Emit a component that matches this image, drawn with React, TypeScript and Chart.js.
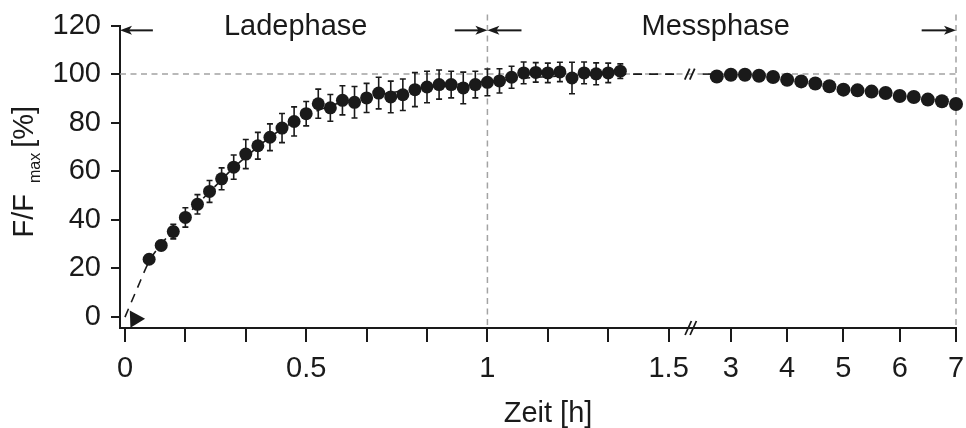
import { useEffect, useRef } from 'react';
import { Chart, registerables } from 'chart.js';

Chart.register(...registerables);

const FONT = "'Liberation Sans', Arial, Helvetica, sans-serif";
const INK = '#1a1a1a';
const GRID_GRAY = '#a3a3a3';

// Ladephase: measurements every 2 min (time in minutes)
const LOAD_TIME_MIN = [4, 6, 8, 10, 12, 14, 16, 18, 20, 22, 24, 26, 28, 30, 32, 34, 36, 38, 40, 42, 44, 46, 48, 50, 52, 54, 56, 58, 60, 62, 64, 66, 68, 70, 72, 74, 76, 78, 80, 82];
const LOAD_VALUES = [23.8, 29.5, 35.2, 41.0, 46.4, 51.7, 56.9, 61.7, 67.1, 70.5, 74.0, 77.8, 80.5, 83.7, 87.8, 86.1, 89.2, 88.4, 90.2, 92.2, 90.6, 91.5, 93.6, 94.7, 95.7, 95.7, 94.3, 95.7, 96.6, 97.2, 98.7, 100.5, 100.7, 100.5, 100.9, 98.4, 100.5, 100.1, 100.5, 101.2];
const LOAD_ERRORS = [1.5, 2, 3, 4, 4, 4.5, 4.5, 5, 6, 5.5, 5.5, 6, 6, 5, 6, 5.5, 6, 6.5, 6, 6.5, 6.5, 6.5, 7, 6.5, 6, 5.5, 6.5, 5.5, 5.5, 5, 4.5, 4.5, 4, 4, 4, 6.5, 4.5, 4.5, 4, 3];

// Messphase (time in hours)
const MEAS_TIME_H = [2.75, 3, 3.25, 3.5, 3.75, 4, 4.25, 4.5, 4.75, 5, 5.25, 5.5, 5.75, 6, 6.25, 6.5, 6.75, 7];
const MEAS_VALUES = [99.0, 99.7, 99.7, 99.3, 98.8, 97.7, 97.0, 96.1, 95.0, 93.6, 93.3, 92.8, 92.2, 91.0, 90.6, 89.5, 88.8, 87.7];

// dashed fit curve
const FIT_LOAD_TIME_H = [0.0, 0.033, 0.067, 0.1, 0.15, 0.2, 0.25, 0.3, 0.35, 0.4, 0.45, 0.5, 0.55, 0.6, 0.7, 0.8, 0.9, 1.0, 1.1, 1.2, 1.3, 1.4, 1.525];
const FIT_LOAD_VALUES = [0, 11.5, 23, 30, 38.5, 46.5, 54, 61.5, 68, 74, 79, 83, 86, 88.5, 91.5, 93.8, 95.5, 97, 98.3, 99.2, 99.8, 100, 100];
const FIT_MEAS_TIME_H = [2.5, 2.75];
const FIT_MEAS_VALUES = [100, 100];

// start marker
const START_TIME_H = [0.028];
const START_VALUES = [-0.8];

const Y_TICKS = [0, 20, 40, 60, 80, 100, 120];
const X_LEFT_TICKS = [0, 1 / 6, 2 / 6, 0.5, 4 / 6, 5 / 6, 1, 7 / 6, 8 / 6, 1.5];
const X_RIGHT_TICKS = [3, 4, 5, 6, 7];
const PHASE_LABELS = ['Ladephase', 'Messphase'];
const X_TITLE = 'Zeit [h]';
const Y_TITLE = ['F/F', 'max', '[%]'];

const decorPlugin = {
  id: 'decor',
  beforeDatasetsDraw(chart: any) {
    const { ctx, chartArea: ca, scales } = chart;
    const x = scales.x, x2 = scales.x2, y = scales.y;
    ctx.save();
    ctx.strokeStyle = GRID_GRAY;
    ctx.lineWidth = 1.5;
    ctx.setLineDash([6, 4.5]);
    const y100 = y.getPixelForValue(100);
    const xEnd = x2.getPixelForValue(7);
    const yTop = y.getPixelForValue(124.5);
    const x1h = x.getPixelForValue(1);
    ctx.beginPath();
    ctx.moveTo(ca.left, y100); ctx.lineTo(xEnd, y100);
    ctx.moveTo(x1h, yTop); ctx.lineTo(x1h, ca.bottom);
    ctx.moveTo(xEnd, yTop); ctx.lineTo(xEnd, ca.bottom);
    ctx.stroke();
    ctx.setLineDash([]);
    ctx.strokeStyle = INK;
    ctx.lineWidth = 1.6;
    ctx.beginPath();
    LOAD_TIME_MIN.forEach((m, i) => {
      const px = x.getPixelForValue(m / 60);
      const t = y.getPixelForValue(LOAD_VALUES[i] + LOAD_ERRORS[i]);
      const b = y.getPixelForValue(LOAD_VALUES[i] - LOAD_ERRORS[i]);
      ctx.moveTo(px, t); ctx.lineTo(px, b);
      ctx.moveTo(px - 3, t); ctx.lineTo(px + 3, t);
      ctx.moveTo(px - 3, b); ctx.lineTo(px + 3, b);
    });
    ctx.stroke();
    ctx.restore();
  },
  afterDraw(chart: any) {
    const { ctx, chartArea: ca, scales } = chart;
    const x = scales.x, x2 = scales.x2, y = scales.y;
    ctx.save();
    ctx.fillStyle = INK;
    ctx.strokeStyle = INK;

    const ay = y.getPixelForValue(118);
    const arrow = (tail: number, tip: number) => {
      const dir = Math.sign(tip - tail);
      ctx.lineWidth = 2;
      ctx.beginPath();
      ctx.moveTo(tail, ay); ctx.lineTo(tip - dir * 6, ay);
      ctx.stroke();
      ctx.beginPath();
      ctx.moveTo(tip, ay);
      ctx.lineTo(tip - dir * 12, ay - 4.5);
      ctx.lineTo(tip - dir * 9, ay);
      ctx.lineTo(tip - dir * 12, ay + 4.5);
      ctx.closePath();
      ctx.fill();
    };
    arrow(x.getPixelForValue(0.077), ca.left);
    arrow(x.getPixelForValue(0.91), x.getPixelForValue(1));
    arrow(x.getPixelForValue(1.094), x.getPixelForValue(1));
    arrow(x2.getPixelForValue(6.39), x2.getPixelForValue(7));

    ctx.font = `29px ${FONT}`;
    ctx.textAlign = 'center';
    ctx.textBaseline = 'alphabetic';
    const ly = y.getPixelForValue(115.9);
    ctx.fillText(PHASE_LABELS[0], x.getPixelForValue(0.471), ly);
    ctx.fillText(PHASE_LABELS[1], x2.getPixelForValue(2.73), ly);

    const bx = x.right;
    ctx.lineWidth = 1.8;
    const brk = (cx: number, cy: number, h: number) => {
      ctx.beginPath();
      [-2.5, 2.5].forEach((o) => {
        ctx.moveTo(cx + o - h * 0.45, cy + h);
        ctx.lineTo(cx + o + h * 0.45, cy - h);
      });
      ctx.stroke();
    };
    brk(bx, ca.bottom, 7);
    brk(bx - 1, y.getPixelForValue(100), 5.5);

    ctx.font = `29px ${FONT}`;
    ctx.textAlign = 'center';
    ctx.fillText(X_TITLE, (ca.left + ca.right) / 2 + 10, 422);

    ctx.translate(33, (ca.top + ca.bottom) / 2 - 5);
    ctx.rotate(-Math.PI / 2);
    ctx.textAlign = 'left';
    const big = `29px ${FONT}`;
    const small = `16px ${FONT}`;
    ctx.font = big;
    const w1 = ctx.measureText(Y_TITLE[0]).width;
    const w3 = ctx.measureText(Y_TITLE[2]).width;
    ctx.font = small;
    const w2 = ctx.measureText(Y_TITLE[1]).width;
    const g1 = 11, g2 = 5;
    let cx = -(w1 + g1 + w2 + g2 + w3) / 2;
    ctx.font = big;
    ctx.fillText(Y_TITLE[0], cx, 0);
    cx += w1 + g1;
    ctx.font = small;
    ctx.fillText(Y_TITLE[1], cx, 7);
    cx += w2 + g2;
    ctx.font = big;
    ctx.fillText(Y_TITLE[2], cx, 0);
    ctx.restore();
  },
};

export default function App() {
  const ref = useRef<HTMLCanvasElement | null>(null);

  useEffect(() => {
    if (!ref.current) return;
    const tickFont = { family: FONT, size: 29 };
    const pointDs = (data: any[], axis: string, r: number) => ({
      data,
      xAxisID: axis,
      yAxisID: 'y',
      showLine: false,
      pointRadius: r,
      pointBackgroundColor: INK,
      pointBorderColor: INK,
      pointBorderWidth: 0,
      clip: false as any,
    });
    const fitDs = (data: any[], axis: string) => ({
      data,
      xAxisID: axis,
      yAxisID: 'y',
      showLine: true,
      borderColor: INK,
      borderWidth: 1.6,
      borderDash: [9, 7],
      pointRadius: 0,
      cubicInterpolationMode: 'monotone' as const,
      clip: false as any,
    });
    const xAxisBase = {
      type: 'linear' as const,
      position: 'bottom' as const,
      stack: 'time',
      grid: { drawOnChartArea: false, drawTicks: true, tickLength: 14, color: INK, lineWidth: 2 },
      border: { display: true, color: INK, width: 2 },
      title: { display: false },
      afterFit: (s: any) => {
        s.height = 100;
        s.paddingLeft = 0;
        s.paddingRight = 0;
      },
    };
    const chart = new Chart(ref.current, {
      type: 'line',
      data: {
        datasets: [
          pointDs(LOAD_TIME_MIN.map((m, i) => ({ x: m / 60, y: LOAD_VALUES[i] })), 'x', 6.5),
          pointDs(MEAS_TIME_H.map((t, i) => ({ x: t, y: MEAS_VALUES[i] })), 'x2', 7),
          {
            data: START_TIME_H.map((t, i) => ({ x: t, y: START_VALUES[i] })),
            xAxisID: 'x',
            yAxisID: 'y',
            showLine: false,
            pointStyle: 'triangle',
            pointRotation: -32,
            pointRadius: 10,
            pointBackgroundColor: INK,
            pointBorderColor: INK,
            pointBorderWidth: 0,
            clip: false as any,
          },
          fitDs(FIT_LOAD_TIME_H.map((t, i) => ({ x: t, y: FIT_LOAD_VALUES[i] })), 'x'),
          fitDs(FIT_MEAS_TIME_H.map((t, i) => ({ x: t, y: FIT_MEAS_VALUES[i] })), 'x2'),
        ] as any,
      },
      options: {
        responsive: false,
        animation: false,
        events: [],
        layout: { padding: { left: 0, top: 25.5, right: 6.7, bottom: 0 } },
        plugins: { legend: { display: false }, tooltip: { enabled: false } },
        scales: {
          x: {
            ...xAxisBase,
            stackWeight: 573,
            min: -0.0137,
            max: 1.561,
            afterBuildTicks: (s: any) => {
              s.ticks = X_LEFT_TICKS.map((v) => ({ value: v }));
            },
            ticks: {
              font: tickFont,
              color: INK,
              padding: 10,
              maxRotation: 0,
              autoSkip: false,
              callback: (v: any) => {
                const n = Number(v);
                return Math.abs(n * 2 - Math.round(n * 2)) < 1e-6 ? String(Math.round(n * 2) / 2) : '';
              },
            },
          },
          x2: {
            ...xAxisBase,
            stackWeight: 266.3,
            min: 2.287,
            max: 7,
            afterBuildTicks: (s: any) => {
              s.ticks = X_RIGHT_TICKS.map((v) => ({ value: v }));
            },
            ticks: {
              font: tickFont,
              color: INK,
              padding: 10,
              maxRotation: 0,
              autoSkip: false,
              callback: (v: any) => String(v),
            },
          },
          y: {
            type: 'linear',
            position: 'left',
            min: -4.5,
            max: 120,
            afterBuildTicks: (s: any) => {
              s.ticks = Y_TICKS.map((v) => ({ value: v }));
            },
            afterFit: (s: any) => {
              s.width = 120;
              s.paddingTop = 0;
              s.paddingBottom = 0;
            },
            grid: { drawOnChartArea: false, drawTicks: true, tickLength: 9, color: INK, lineWidth: 2 },
            border: { display: true, color: INK, width: 2 },
            ticks: { font: tickFont, color: INK, padding: 10, autoSkip: false },
            title: { display: false },
          },
        } as any,
      },
      plugins: [decorPlugin],
    });
    return () => chart.destroy();
  }, []);

  return (
    <div style={{ position: 'absolute', left: 0, top: 0, width: 966, height: 428, background: '#fff' }}>
      <canvas ref={ref} width={966} height={428} style={{ display: 'block' }} />
    </div>
  );
}
